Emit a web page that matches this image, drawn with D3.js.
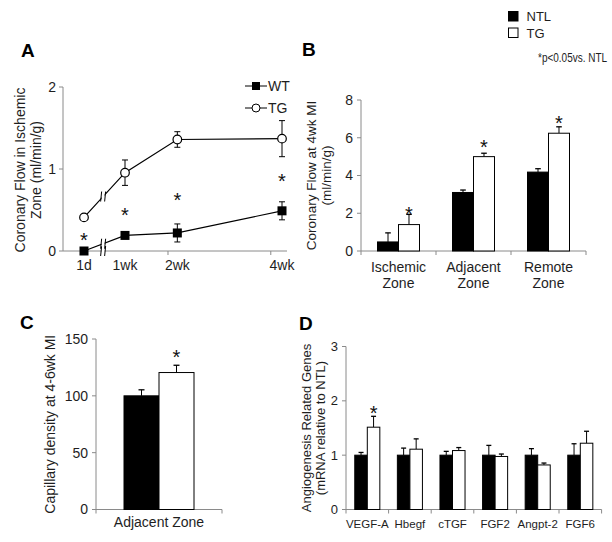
<!DOCTYPE html>
<html><head><meta charset="utf-8">
<script src="https://cdn.jsdelivr.net/npm/d3@7"></script>
<style>
body{margin:0;background:#fff}
svg{display:block}
text{font-family:"Liberation Sans",Arial,sans-serif;fill:#1e1e1e}
</style>
</head><body>
<svg id="chart" width="612" height="542"></svg>
<script>
// ---------- Panel A data ----------
const aLabels = ["1d", "1wk", "2wk", "4wk"];
const aDays = [1, 7, 14, 28];
const aWT = [0, 0.19, 0.22, 0.49];
const aWTerr = [0, 0.02, 0.11, 0.11];
const aTG = [0.41, 0.955, 1.36, 1.37];
const aTGerr = [0, 0.155, 0.095, 0.22];
const aStars = [0.2, 0.5, 0.68, 0.92];
const aYTicks = [0, 1, 2];
const aXTickDays = [12.75, 26.5];
const aBreakDay = 3.8;
const aSeries = ["WT", "TG"];

// ---------- Panel B data ----------
const bCats = [["Ischemic", "Zone"], ["Adjacent", "Zone"], ["Remote", "Zone"]];
const bNTL = [0.48, 3.1, 4.18];
const bNTLerr = [0.48, 0.13, 0.18];
const bTG = [1.4, 5.0, 6.24];
const bTGerr = [0.54, 0.18, 0.34];
const bStars = [2.25, 5.8, 7.04];
const bYTicks = [0, 2, 4, 6, 8];

// ---------- Panel C data ----------
const cCats = [["Adjacent Zone"]];
const cNTL = [100];
const cNTLerr = [5.3];
const cTG = [120.5];
const cTGerr = [6.4];
const cStars = [139];
const cYTicks = [0, 50, 100, 150];

// ---------- Panel D data ----------
const dCats = [["VEGF-A"], ["Hbegf"], ["cTGF"], ["FGF2"], ["Angpt-2"], ["FGF6"]];
const dNTL = [1, 1, 1, 1, 1, 1];
const dNTLerr = [0.05, 0.13, 0.07, 0.18, 0.12, 0.21];
const dTG = [1.515, 1.11, 1.085, 0.976, 0.82, 1.22];
const dTGerr = [0.2, 0.19, 0.055, 0.045, 0.035, 0.22];
const dStars = [1.87, null, null, null, null, null];
const dYTicks = [0, 1, 2, 3];

const legendItems = ["NTL", "TG"];
const noteText = "*p<0.05vs. NTL";

const AXIS = "#8a8a8a";
const svg = d3.select("#chart");
svg.append("rect").attr("width", 612).attr("height", 542).attr("fill", "#fff");

function yAxis(g, x, y, ticks, labelX, fs) {
  const [r0, r1] = y.range();
  g.append("line").attr("x1", x).attr("x2", x).attr("y1", r0).attr("y2", r1)
    .attr("stroke", AXIS).attr("stroke-width", 1);
  ticks.forEach(t => {
    g.append("line").attr("x1", x - 4).attr("x2", x).attr("y1", y(t)).attr("y2", y(t))
      .attr("stroke", AXIS);
    g.append("text").attr("x", labelX).attr("y", y(t)).attr("dy", "0.35em")
      .attr("text-anchor", "end").attr("font-size", fs).text(t);
  });
}

function yTitle(g, lines, xs, cy, fs) {
  lines.forEach((l, i) => {
    g.append("text").attr("transform", `translate(${xs[i]},${cy}) rotate(-90)`)
      .attr("text-anchor", "middle").attr("dy", "0.35em").attr("font-size", fs).text(l);
  });
}

function panelTitle(t, x, y) {
  svg.append("text").attr("x", x).attr("y", y).attr("font-size", 19)
    .attr("font-weight", "bold").style("fill", "#000").text(t);
}

function star(g, x, yv, fs) {
  g.append("text").attr("x", x).attr("y", yv).attr("dy", fs * 0.6)
    .attr("text-anchor", "middle").attr("font-size", fs).style("fill", "#111").text("*");
}

// ================= Panel A =================
{
  const g = svg.append("g");
  const x = d3.scaleLinear().domain([1, 7, 28]).range([84, 125, 282]);
  const y = d3.scaleLinear().domain([0, 2]).range([251, 87]);
  const axX0 = 63, axX1 = 287;
  yAxis(g, axX0, y, aYTicks, 56, 14);
  g.append("line").attr("x1", axX0).attr("x2", axX1).attr("y1", y(0)).attr("y2", y(0))
    .attr("stroke", AXIS);
  aXTickDays.forEach(d => g.append("line").attr("x1", x(d)).attr("x2", x(d))
    .attr("y1", y(0)).attr("y2", y(0) + 4).attr("stroke", AXIS));
  aLabels.forEach((l, i) => g.append("text").attr("x", x(aDays[i])).attr("y", 270)
    .attr("text-anchor", "middle").attr("font-size", 14).text(l));
  yTitle(g, ["Coronary Flow in Ischemic", "Zone (ml/min/g)"], [20, 36], 170, 14);

  const line = d3.line().x((d, i) => x(aDays[i])).y(d => y(d));
  [aWT, aTG].forEach(s => g.append("path").attr("d", line(s)).attr("fill", "none")
    .attr("stroke", "#000").attr("stroke-width", 1.2));

  // error bars
  [[aWT, aWTerr], [aTG, aTGerr]].forEach(([s, e]) => s.forEach((v, i) => {
    if (!e[i]) return;
    const xx = x(aDays[i]);
    g.append("line").attr("x1", xx).attr("x2", xx).attr("y1", y(v - e[i])).attr("y2", y(v + e[i]))
      .attr("stroke", "#000");
    [v - e[i], v + e[i]].forEach(c => g.append("line").attr("x1", xx - 3).attr("x2", xx + 3)
      .attr("y1", y(c)).attr("y2", y(c)).attr("stroke", "#000"));
  }));

  // breaks
  const bx = x(aBreakDay);
  const brkY = [y(0)];
  [aWT, aTG].forEach(s => {
    const t = (aBreakDay - aDays[0]) / (aDays[1] - aDays[0]);
    brkY.push(y(s[0] + t * (s[1] - s[0])));
  });
  brkY.forEach(yy => {
    g.append("rect").attr("x", bx - 1.5).attr("y", yy - 3).attr("width", 3).attr("height", 6).attr("fill", "#fff");
    [-2, 2].forEach(o => g.append("line").attr("x1", bx + o - 0.5).attr("x2", bx + o + 0.5)
      .attr("y1", yy + 5).attr("y2", yy - 5).attr("stroke", "#000").attr("stroke-width", 1));
  });

  // markers
  aWT.forEach((v, i) => g.append("rect").attr("x", x(aDays[i]) - 4.5).attr("y", y(v) - 4.5)
    .attr("width", 9).attr("height", 9).attr("fill", "#000"));
  aTG.forEach((v, i) => g.append("circle").attr("cx", x(aDays[i])).attr("cy", y(v)).attr("r", 4.3)
    .attr("fill", "#fff").attr("stroke", "#000").attr("stroke-width", 1.2));

  aStars.forEach((v, i) => star(g, x(aDays[i]), y(v), 20));

  // legend
  aSeries.forEach((s, i) => {
    const ly = 86 + i * 22;
    g.append("line").attr("x1", 245).attr("x2", 267).attr("y1", ly).attr("y2", ly).attr("stroke", "#000");
    if (i === 0) g.append("rect").attr("x", 252).attr("y", ly - 4).attr("width", 8).attr("height", 8).attr("fill", "#000");
    else g.append("circle").attr("cx", 256).attr("cy", ly).attr("r", 4).attr("fill", "#fff").attr("stroke", "#000");
    g.append("text").attr("x", 268).attr("y", ly).attr("dy", "0.35em").attr("font-size", 14).text(s);
  });
  panelTitle("A", 21, 57);
}

// ================= Bar panels =================
function barPanel(opt) {
  const g = svg.append("g");
  const n = opt.cats.length;
  const y = d3.scaleLinear().domain([0, opt.yMax]).range([opt.yBot, opt.yTop]);
  const gx = d3.scaleBand().domain(d3.range(n)).range([opt.x0, opt.x1]);
  const ix = d3.scaleBand().domain(legendItems).range([0, gx.bandwidth()])
    .paddingInner(0).paddingOuter(opt.pad);
  yAxis(g, opt.x0, y, opt.yTicks, opt.x0 - 8, opt.tickFs);
  g.append("line").attr("x1", opt.x0).attr("x2", opt.x1).attr("y1", y(0)).attr("y2", y(0)).attr("stroke", AXIS);
  d3.range(n + 1).forEach(i => {
    const xx = opt.x0 + i * gx.step();
    g.append("line").attr("x1", xx).attr("x2", xx).attr("y1", y(0)).attr("y2", y(0) + 4).attr("stroke", AXIS);
  });
  const sets = [[opt.ntl, opt.ntlErr, "#000"], [opt.tg, opt.tgErr, "#fff"]];
  sets.forEach(([vals, errs, fill], si) => vals.forEach((v, i) => {
    const bx = gx(i) + ix(legendItems[si]);
    const bw = ix.bandwidth();
    const cx = bx + bw / 2;
    const top = v + errs[i];
    g.append("line").attr("x1", cx).attr("x2", cx).attr("y1", y(v)).attr("y2", y(top)).attr("stroke", "#000");
    g.append("line").attr("x1", cx - opt.cap).attr("x2", cx + opt.cap).attr("y1", y(top)).attr("y2", y(top))
      .attr("stroke", "#000").attr("stroke-width", 1.3);
    g.append("rect").attr("x", bx).attr("y", y(v)).attr("width", bw).attr("height", y(0) - y(v))
      .attr("fill", fill).attr("stroke", "#000").attr("stroke-width", 1);
  }));
  opt.stars.forEach((s, i) => {
    if (s == null) return;
    star(g, gx(i) + ix("TG") + ix.bandwidth() / 2, y(s), 20);
  });
  opt.cats.forEach((lines, i) => lines.forEach((l, li) => g.append("text")
    .attr("x", gx(i) + gx.bandwidth() / 2).attr("y", opt.labY + li * 16)
    .attr("text-anchor", "middle").attr("font-size", opt.catFs).text(l)));
  yTitle(g, opt.title, opt.titleX, (opt.yTop + opt.yBot) / 2, opt.titleFs);
}

barPanel({cats: bCats, ntl: bNTL, ntlErr: bNTLerr, tg: bTG, tgErr: bTGerr, stars: bStars,
  yTicks: bYTicks, yMax: 8, yTop: 100, yBot: 251, x0: 361, x1: 586, pad: 0.786, cap: 2.8,
  tickFs: 14, catFs: 14, labY: 272, title: ["Coronary Flow at 4wk MI", "(ml/min/g)"],
  titleX: [311, 326], titleFs: 13.5});
panelTitle("B", 302, 56);

barPanel({cats: cCats, ntl: cNTL, ntlErr: cNTLerr, tg: cTG, tgErr: cTGerr, stars: cStars,
  yTicks: cYTicks, yMax: 150, yTop: 339, yBot: 509.5, x0: 96, x1: 222, pad: 0.8, cap: 3,
  tickFs: 14, catFs: 14, labY: 527, title: ["Capillary density at 4-6wk MI"],
  titleX: [50], titleFs: 14});
panelTitle("C", 20, 329);

barPanel({cats: dCats, ntl: dNTL, ntlErr: dNTLerr, tg: dTG, tgErr: dTGerr, stars: dStars,
  yTicks: dYTicks, yMax: 3, yTop: 346.5, yBot: 509.5, x0: 346, x1: 601.6, pad: 0.7, cap: 2.5,
  tickFs: 13, catFs: 11.5, labY: 528, title: ["Angiogenesis Related Genes", "(mRNA relative to NTL)"],
  titleX: [306, 320], titleFs: 13});
panelTitle("D", 299, 330);

// ================= Legend =================
legendItems.forEach((s, i) => {
  const ly = 11.5 + i * 16.5;
  svg.append("rect").attr("x", 508.5).attr("y", ly).attr("width", 9.5).attr("height", 9.5)
    .attr("fill", i === 0 ? "#000" : "#fff").attr("stroke", "#000").attr("stroke-width", 1);
  svg.append("text").attr("x", 526.5).attr("y", ly + 9.5).attr("font-size", 13).text(s);
});
svg.append("text").attr("transform", "translate(538,61.5) scale(0.8,1)").attr("font-size", 12.5)
  .text(noteText);
</script>
</body></html>
